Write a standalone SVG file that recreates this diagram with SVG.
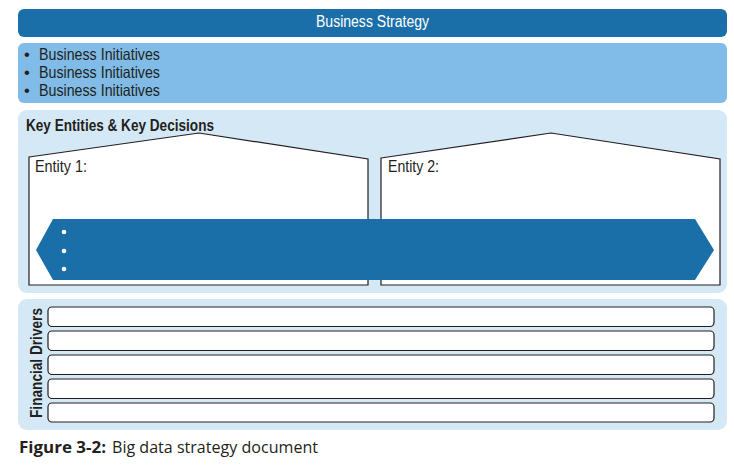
<svg xmlns="http://www.w3.org/2000/svg" width="734" height="465" viewBox="0 0 734 465">
<style>
.t{font-family:"Liberation Sans Narrow","Liberation Sans",Arial,sans-serif;fill:#231f20}
.b{font-weight:bold}
.ent{fill:#fff;stroke:#231f20;stroke-width:1.2}
.row{fill:#fff;stroke:#231f20;stroke-width:1.2}
.cap{font-family:"Open Sans","Liberation Sans",sans-serif;fill:#231f20;font-size:15.5px}
</style>
<rect width="734" height="465" fill="#fff"/>
<g id="strategy">
<rect x="18" y="9" width="709" height="28" rx="6" fill="#1b6fa8"/>
<text class="t" x="316" y="27" font-size="16" style="fill:#fff" textLength="113" lengthAdjust="spacingAndGlyphs">Business Strategy</text>
</g>
<g id="initiatives">
<rect x="18" y="43" width="709" height="60" rx="6" fill="#80bce7"/>
<g class="t" font-size="16.5">
<text x="24" y="60">•</text><text x="39" y="60" textLength="121" lengthAdjust="spacingAndGlyphs">Business Initiatives</text>
<text x="24" y="78">•</text><text x="39" y="78" textLength="121" lengthAdjust="spacingAndGlyphs">Business Initiatives</text>
<text x="24" y="96">•</text><text x="39" y="96" textLength="121" lengthAdjust="spacingAndGlyphs">Business Initiatives</text>
</g>
</g>
<g id="key-entities">
<rect x="18" y="110" width="709" height="183" rx="9" fill="#d4e8f6"/>
<text class="t b" x="26" y="131" font-size="17" textLength="188" lengthAdjust="spacingAndGlyphs">Key Entities &amp; Key Decisions</text>
<g id="entity1">
<polygon class="ent" points="29,157 199,133 368,159 368,285 29,285"/>
<text class="t" x="35" y="172" font-size="16" textLength="52" lengthAdjust="spacingAndGlyphs">Entity 1:</text>
</g>
<g id="entity2">
<polygon class="ent" points="381,158 551,133 720,159 720,285 381,285"/>
<text class="t" x="388" y="172" font-size="16" textLength="51" lengthAdjust="spacingAndGlyphs">Entity 2:</text>
</g>
<g id="decisions">
<polygon points="53,219 695,219 714,250 695,280 53,280 36,250" fill="#1b6fa8"/>
<circle cx="64" cy="232" r="2.3" fill="#fff"/>
<circle cx="64" cy="251" r="2.3" fill="#fff"/>
<circle cx="64" cy="269" r="2.3" fill="#fff"/>
</g>
</g>
<g id="financial-drivers">
<rect x="18" y="299" width="709" height="131" rx="9" fill="#d4e8f6"/>
<text class="t b" transform="translate(42,418) rotate(-90)" x="0" y="0" font-size="17" textLength="110" lengthAdjust="spacingAndGlyphs">Financial Drivers</text>
<rect class="row" x="48" y="307" width="666" height="19.5" rx="4"/>
<rect class="row" x="48" y="331" width="666" height="19.5" rx="4"/>
<rect class="row" x="48" y="355" width="666" height="19.5" rx="4"/>
<rect class="row" x="48" y="379" width="666" height="19.5" rx="4"/>
<rect class="row" x="48" y="403" width="666" height="19" rx="4"/>
</g>
<g id="connectors"></g>
<g id="caption">
<text class="cap" x="19" y="453" font-weight="bold" textLength="87" lengthAdjust="spacingAndGlyphs">Figure 3-2:</text>
<text class="cap" x="112" y="453" textLength="206" lengthAdjust="spacingAndGlyphs">Big data strategy document</text>
</g>
</svg>
